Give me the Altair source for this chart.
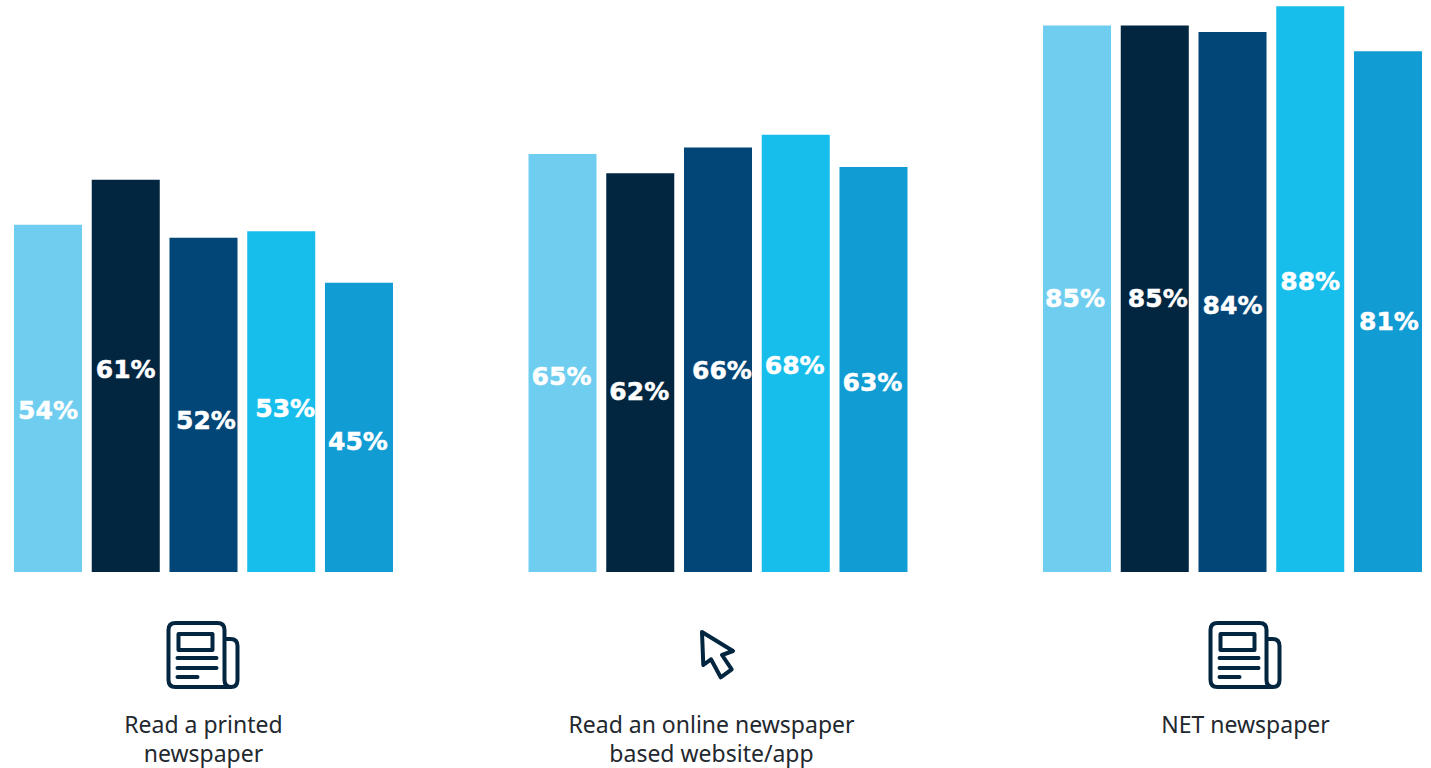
import altair as alt
import pandas as pd

groups = ["Read a printed newspaper", "Read an online newspaper based website/app", "NET newspaper"]
group_lines = ["Read a printed\nnewspaper", "Read an online newspaper\nbased website/app", "NET newspaper"]
bar_keys = ["a", "b", "c", "d", "e"]
bar_colors = ["#6FCDF0", "#02263F", "#014677", "#17BEEC", "#119CD4"]
values = [
    [54, 61, 52, 53, 45],
    [65, 62, 66, 68, 63],
    [85, 85, 84, 88, 81],
]
# Hand nudges for the percentage labels, in pixels from each bar's centre
label_dx = [
    [0, 0, 2.5, 4, -1],
    [-1, -1, 4, -1, -1],
    [-2, 3, 0, 0, 1],
]
label_dy = [
    [13, -5.5, 16.5, 7.5, 15],
    [14, 19, 11, 13, 13.5],
    [0.5, 0, 4.5, -7, 10.5],
]
# Offsets of the captions and icons from their group's centre
caption_dx = [0, -6.5, 13]
icon_dx = [0, 0, 13]

NEWS_ICON = (
    "M-28,-32 H14 Q21,-32 21,-25 V25 Q21,32 28,32 H-28 Q-35,32 -35,25 V-25 Q-35,-32 -28,-32 Z "
    "M21,-16 H27 Q34,-16 34,-9 V25 Q34,32 27.5,32 "
    "M-25,-21 H9 V-5 H-25 Z "
    "M-26,3 H13 M-26,13 H13 M-26,22 H-6"
)
CURSOR_ICON = "M-16,-23 L15,-4 L4,0 L13.7,14.3 L2.7,22.3 L-7,4.3 L-14.7,10 Z"
icons = [NEWS_ICON, CURSOR_ICON, NEWS_ICON]

rows = []
for g, group in enumerate(groups):
    for b, key in enumerate(bar_keys):
        rows.append({"group": group, "bar": key, "value": values[g][b],
                     "mid": values[g][b] / 2, "label": f"{values[g][b]}%"})
df = pd.DataFrame(rows)

x_enc = alt.X("group:N", axis=None, sort=groups,
              scale=alt.Scale(domain=groups, paddingInner=0.2634, paddingOuter=0))
offset_enc = alt.XOffset("bar:N", sort=bar_keys,
                         scale=alt.Scale(domain=bar_keys, paddingInner=0.125, paddingOuter=0))
y_scale = alt.Scale(domain=[0, 572 / 6.43], nice=False, zero=True)

bars = alt.Chart(df).mark_bar().encode(
    x=x_enc,
    xOffset=offset_enc,
    y=alt.Y("value:Q", axis=None, scale=y_scale),
    color=alt.Color("bar:N", legend=None,
                    scale=alt.Scale(domain=bar_keys, range=bar_colors)),
)

layers = [bars]
for g, group in enumerate(groups):
    for b, key in enumerate(bar_keys):
        one = df[(df.group == group) & (df.bar == key)]
        layers.append(
            alt.Chart(one).mark_text(
                font="DejaVu Sans", fontWeight="bold", fontSize=25, color="white",
                stroke="white", strokeWidth=0.5,
                dx=label_dx[g][b], dy=label_dy[g][b],
            ).encode(
                x=x_enc, xOffset=offset_enc,
                y=alt.Y("mid:Q", axis=None, scale=y_scale),
                text="label:N",
            )
        )
    caption = pd.DataFrame({"group": [group], "caption": [group_lines[g]]})
    layers.append(
        alt.Chart(caption).mark_text(
            font="Noto Sans", fontSize=23, color="#22282E", lineBreak="\n",
            lineHeight=29, baseline="alphabetic", dx=caption_dx[g],
        ).encode(x=x_enc, y=alt.value(733), text="caption:N")
    )
    layers.append(
        alt.Chart(caption).mark_point(
            shape=icons[g], size=4, filled=False, stroke="#02263F", strokeWidth=4,
            strokeCap="round", strokeJoin="round", opacity=1, xOffset=icon_dx[g],
        ).encode(x=x_enc, y=alt.value(655))
    )

chart = alt.layer(*layers).properties(
    width=1408, height=572,
    padding={"left": 14, "top": 0, "right": 9, "bottom": 196},
    autosize=alt.AutoSizeParams(type="none"),
    background="white",
).configure_view(stroke=None)

chart.save("out.html", embed_options={"renderer": "svg", "actions": False})
